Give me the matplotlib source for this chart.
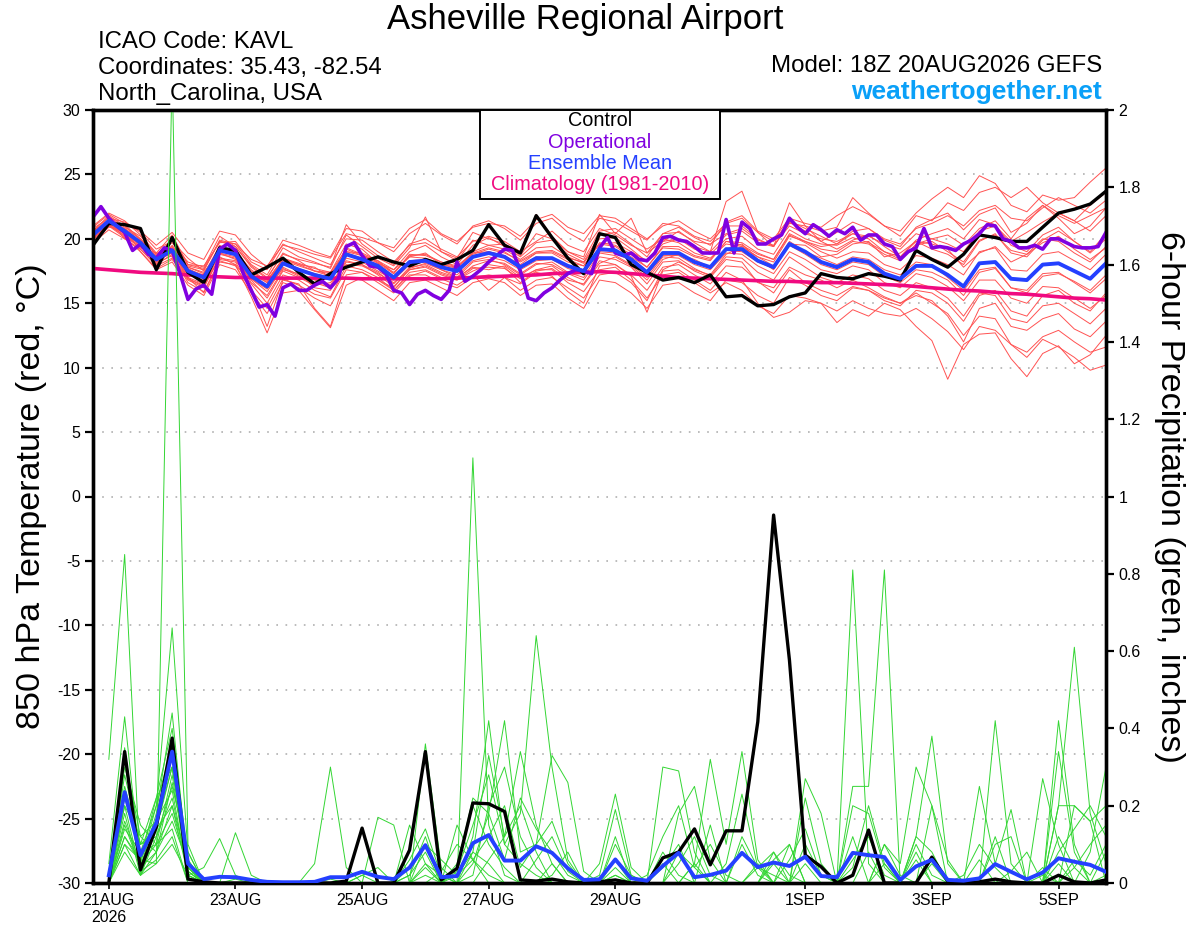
import matplotlib
matplotlib.use("Agg")
import matplotlib.pyplot as plt
from matplotlib.patches import Rectangle
import numpy as np

plt.rcParams['font.family'] = ['Liberation Sans', 'DejaVu Sans']

# ---------------- data ----------------
# x: 6-hourly steps, step 0 = 21AUG 00Z; temperature starts at step -1 (20AUG 18Z)
tick_steps = [0, 8, 16, 24, 32, 44, 52, 60]
tick_labels = ["21AUG\n2026", "23AUG", "25AUG", "27AUG", "29AUG", "1SEP", "3SEP", "5SEP"]

control_temp = [19.5, 21.2, 21.1, 20.8, 17.6, 20.1, 17.4, 16.6, 19.3, 19.1, 17.2, 17.8, 18.5,
                17.4, 16.5, 17.3, 17.8, 18.2, 18.6, 18.2, 17.9, 18.4, 18.0, 18.4, 19.1, 21.1,
                19.5, 18.9, 21.8, 20.1, 18.5, 17.3, 20.4, 20.1, 18.0, 17.4, 16.8, 17.0, 16.6,
                17.2, 15.5, 15.6, 14.8, 14.9, 15.5, 15.8, 17.3, 17.0, 16.9, 17.3, 17.1, 16.8,
                19.1, 18.4, 17.8, 18.8, 20.3, 20.1, 19.8, 19.8, 20.9, 22.0, 22.3, 22.7, 23.7]

mean_temp = [20.3, 21.4, 20.6, 19.7, 18.4, 19.1, 17.5, 17.0, 19.1, 18.8, 17.1, 16.3, 18.1,
             17.6, 17.2, 16.9, 18.8, 18.4, 17.9, 17.0, 18.2, 18.3, 17.8, 17.5, 18.6, 18.9,
             18.6, 17.8, 18.5, 18.5, 17.9, 17.5, 19.2, 19.1, 18.4, 17.4, 18.9, 18.9, 18.2,
             17.8, 19.2, 19.2, 18.3, 17.8, 19.6, 19.0, 18.2, 17.8, 18.4, 18.2, 17.3, 16.9,
             17.9, 17.9, 17.2, 16.3, 18.1, 18.2, 16.9, 16.8, 18.0, 18.1, 17.5, 16.9, 18.1]

clim_temp = [17.7, 17.6, 17.5, 17.4, 17.35, 17.3, 17.2, 17.1, 17.05, 17.0, 17.0, 16.95, 16.95,
             16.95, 16.95, 16.95, 16.95, 16.9, 16.9, 16.9, 16.9, 16.9, 16.9, 16.95, 17.0, 17.05,
             17.1, 17.15, 17.2, 17.3, 17.35, 17.4, 17.45, 17.4, 17.3, 17.2, 17.1, 17.0, 16.95,
             16.9, 16.85, 16.8, 16.75, 16.7, 16.7, 16.65, 16.6, 16.6, 16.55, 16.5, 16.45, 16.4,
             16.3, 16.2, 16.1, 16.0, 15.95, 15.85, 15.75, 15.7, 15.6, 15.5, 15.4, 15.35, 15.25]

# operational is 3-hourly, from 20AUG 18Z
oper_temp = [21.7, 22.5, 21.6, 21.0, 20.5, 19.1, 19.6, 18.8, 18.5, 19.3, 19.1, 17.3, 15.3,
             16.1, 16.4, 15.7, 19.2, 19.6, 19.1, 17.3, 16.0, 14.7, 14.9, 14.0, 16.2, 16.5,
             16.0, 16.0, 16.4, 16.7, 16.2, 16.9, 19.4, 19.7, 18.7, 17.9, 17.8, 17.3, 16.0,
             15.8, 14.9, 15.7, 16.0, 15.6, 15.3, 16.0, 18.2, 16.7, 17.1, 17.6, 18.2, 18.7,
             19.2, 19.1, 17.5, 15.4, 15.2, 15.8, 16.2, 16.8, 17.3, 17.6, 17.5, 17.3, 19.3,
             20.1, 18.9, 18.7, 18.9, 18.4, 18.3, 18.9, 20.1, 20.2, 19.9, 19.8, 19.4, 18.9,
             18.9, 18.9, 21.5, 18.9, 21.3, 20.8, 19.6, 19.6, 20.0, 20.3, 21.6, 20.9, 20.4,
             21.1, 20.7, 20.2, 20.7, 20.4, 20.9, 19.9, 20.3, 20.3, 19.6, 19.4, 18.4, 19.0,
             19.3, 20.8, 19.3, 19.4, 19.3, 19.1, 19.6, 19.9, 20.4, 21.1, 21.0, 20.0, 19.8,
             19.3, 19.3, 19.5, 19.2, 20.0, 20.0, 19.7, 19.4, 19.3, 19.3, 19.4, 20.5]

ens_temp = [
    [20.6, 21.8, 21.0, 19.9, 18.0, 19.5, 17.9, 17.6, 19.8, 19.4, 17.8, 16.9, 18.9,
     18.3, 17.5, 17.4, 19.6, 19.2, 18.1, 17.6, 19.0, 19.5, 18.6, 18.0, 19.5, 20.1,
     19.4, 18.6, 19.7, 19.9, 18.8, 18.2, 20.3, 20.5, 19.6, 18.6, 20.4, 20.9, 20.1,
     19.5, 21.3, 21.8, 20.6, 20.0, 21.6, 21.2, 20.9, 21.8, 22.5, 21.9, 21.0, 20.6,
     22.0, 23.1, 24.0, 23.2, 24.9, 24.3, 22.6, 22.1, 23.4, 23.0, 23.2, 24.4, 25.5],
    [20.0, 21.1, 20.2, 19.3, 18.9, 18.6, 17.0, 16.5, 18.4, 18.2, 16.2, 13.2, 16.8,
     16.5, 14.6, 13.2, 17.2, 17.4, 16.6, 15.8, 17.1, 17.5, 16.9, 16.4, 17.2, 16.0,
     17.0, 16.5, 17.4, 17.1, 15.9, 15.0, 17.9, 18.0, 17.1, 14.3, 17.5, 17.6, 16.8,
     16.0, 17.4, 16.8, 15.0, 13.9, 14.3, 15.2, 15.0, 13.5, 14.5, 14.0, 15.0, 14.5,
     13.2, 12.1, 9.1, 11.8, 12.6, 12.7, 10.7, 9.3, 11.1, 11.7, 10.3, 11.0, 12.5],
    [20.8, 21.6, 21.3, 20.5, 19.2, 19.8, 18.5, 17.5, 19.9, 19.6, 18.0, 17.2, 19.3,
     18.6, 18.2, 17.7, 20.3, 19.4, 18.5, 17.9, 19.3, 21.7, 19.0, 18.3, 19.9, 19.5,
     19.6, 18.9, 21.9, 20.2, 19.0, 18.6, 21.9, 20.4, 21.6, 18.9, 19.8, 20.6, 19.7,
     19.0, 22.9, 23.7, 20.5, 19.4, 22.8, 21.0, 19.8, 20.5, 21.3, 20.8, 19.9, 19.4,
     20.9, 21.5, 22.0, 20.7, 21.9, 22.4, 20.5, 21.2, 22.6, 21.6, 20.4, 21.0, 22.4],
    [19.8, 20.9, 20.8, 19.0, 17.7, 18.4, 16.8, 16.2, 18.6, 18.0, 16.5, 15.0, 17.2,
     16.8, 16.0, 15.5, 17.9, 17.6, 17.0, 16.0, 17.4, 17.6, 17.0, 16.8, 17.5, 18.0,
     17.8, 16.6, 17.5, 17.7, 16.8, 16.5, 18.3, 18.0, 17.2, 16.0, 17.8, 18.0, 17.2,
     16.5, 17.9, 17.8, 16.7, 15.8, 17.6, 16.6, 16.0, 15.6, 16.3, 16.0, 15.4, 15.0,
     15.6, 15.2, 14.0, 12.0, 14.6, 15.0, 13.2, 12.9, 13.8, 14.2, 13.0, 12.4, 13.6],
    [20.4, 21.5, 20.0, 19.9, 18.6, 19.4, 17.6, 17.2, 19.5, 18.9, 17.4, 16.8, 18.4,
     18.0, 17.8, 17.0, 19.0, 18.9, 18.3, 17.3, 18.8, 18.7, 18.2, 17.9, 18.9, 19.3,
     19.0, 18.2, 18.9, 19.0, 18.4, 17.9, 19.7, 19.5, 18.8, 17.8, 19.3, 19.2, 18.6,
     18.3, 19.8, 19.5, 18.8, 18.4, 20.3, 19.7, 19.0, 18.5, 19.0, 18.9, 18.0, 17.6,
     18.7, 18.5, 18.0, 17.2, 19.0, 19.3, 17.6, 17.5, 18.8, 19.0, 18.3, 17.6, 18.8],
    [20.1, 21.0, 20.5, 19.5, 18.2, 19.0, 16.9, 16.4, 18.8, 18.5, 16.9, 15.9, 17.8,
     17.2, 16.8, 16.4, 18.3, 18.0, 17.4, 16.5, 17.8, 18.0, 17.4, 17.0, 18.2, 18.4,
     18.0, 17.2, 18.0, 18.2, 17.4, 17.0, 18.9, 18.7, 18.0, 17.0, 18.6, 18.5, 17.7,
     17.1, 18.6, 18.5, 17.4, 16.8, 18.6, 17.8, 17.0, 16.6, 17.2, 16.9, 16.0, 15.6,
     16.6, 16.2, 15.4, 14.0, 15.8, 15.6, 13.8, 13.5, 14.8, 15.0, 14.2, 13.4, 14.6],
    [20.5, 21.7, 20.9, 20.2, 18.8, 19.7, 18.2, 17.8, 20.2, 19.4, 17.9, 17.0, 18.8,
     18.4, 18.1, 17.8, 21.1, 19.6, 18.7, 18.0, 19.6, 20.0, 19.2, 18.6, 19.8, 20.2,
     19.8, 19.0, 19.8, 20.6, 19.5, 19.0, 20.8, 20.3, 19.5, 18.9, 20.4, 20.5, 19.8,
     19.6, 20.4, 20.8, 19.9, 19.5, 21.0, 20.4, 20.0, 19.8, 20.4, 20.2, 19.6, 19.2,
     20.4, 20.0, 19.6, 19.0, 20.6, 21.0, 19.8, 20.5, 21.3, 22.0, 21.4, 20.6, 21.8],
    [20.2, 21.2, 20.4, 19.2, 18.0, 18.8, 17.2, 16.8, 18.9, 18.6, 16.6, 15.6, 17.6,
     17.3, 16.2, 16.0, 18.2, 18.0, 17.2, 16.3, 17.6, 17.9, 17.3, 16.9, 17.9, 18.3,
     18.1, 17.3, 18.1, 18.0, 17.3, 16.8, 18.6, 18.4, 17.8, 16.5, 18.2, 18.3, 17.5,
     17.0, 18.4, 18.2, 16.6, 16.2, 17.8, 17.2, 16.8, 16.2, 16.8, 16.2, 15.5, 15.0,
     15.8, 15.0, 14.2, 12.5, 14.0, 13.8, 11.8, 10.8, 12.2, 11.6, 10.8, 9.8, 10.2],
    [20.7, 21.3, 21.1, 20.0, 18.5, 19.2, 17.8, 17.3, 19.3, 19.1, 17.5, 16.6, 18.5,
     18.0, 17.5, 17.1, 19.3, 18.8, 18.2, 17.4, 18.6, 18.9, 18.0, 17.7, 19.0, 19.5,
     19.2, 18.4, 19.3, 19.4, 18.6, 18.1, 20.0, 20.1, 19.2, 18.2, 19.6, 20.0, 19.2,
     18.8, 20.0, 20.2, 19.2, 18.8, 20.7, 20.0, 19.6, 19.5, 20.1, 19.7, 19.0, 18.6,
     19.9, 20.4, 20.8, 20.0, 21.5, 21.1, 19.5, 19.0, 20.3, 20.9, 19.8, 18.9, 20.0],
    [19.9, 21.0, 20.3, 19.4, 18.3, 18.9, 17.3, 16.7, 18.9, 18.4, 16.9, 16.1, 17.7,
     17.1, 16.6, 16.2, 18.5, 18.2, 17.5, 16.8, 18.0, 18.2, 17.6, 17.2, 18.3, 18.6,
     18.3, 17.6, 18.3, 18.4, 17.7, 17.3, 19.0, 18.9, 18.3, 17.2, 18.7, 18.7, 18.0,
     17.6, 18.9, 18.8, 17.9, 17.3, 19.0, 18.4, 17.6, 17.3, 17.9, 17.6, 16.6, 16.2,
     17.3, 17.0, 16.3, 15.2, 16.8, 16.8, 15.4, 15.0, 16.3, 16.2, 15.4, 14.6, 15.6],
    [21.0, 22.0, 21.4, 20.3, 18.9, 20.3, 18.0, 17.9, 19.7, 19.8, 18.2, 17.6, 19.6,
     19.0, 18.5, 18.0, 20.0, 19.9, 19.0, 18.2, 19.5, 19.7, 19.0, 18.5, 20.5, 20.0,
     19.6, 18.7, 20.4, 20.0, 19.0, 18.4, 20.6, 20.8, 20.0, 19.2, 20.0, 19.7, 18.9,
     18.5, 19.6, 19.4, 18.6, 17.9, 19.8, 19.0, 18.5, 18.0, 18.6, 18.4, 17.6, 17.2,
     18.2, 18.0, 17.0, 16.0, 17.6, 17.8, 16.2, 16.0, 17.3, 17.4, 16.6, 15.8, 16.9],
    [20.3, 21.4, 20.7, 19.7, 18.4, 19.1, 17.0, 15.8, 18.2, 18.0, 15.5, 12.7, 15.8,
     16.0, 14.5, 13.1, 16.4, 17.0, 16.8, 16.2, 17.7, 18.1, 17.6, 17.0, 17.8, 17.6,
     17.9, 17.0, 17.6, 17.9, 17.0, 16.4, 18.1, 18.6, 17.9, 16.8, 18.4, 18.8, 18.4,
     17.8, 19.2, 19.6, 18.4, 17.6, 19.6, 19.5, 18.6, 18.8, 19.6, 19.8, 18.6, 18.9,
     19.8, 19.6, 19.2, 17.8, 18.9, 19.4, 18.2, 18.8, 19.7, 20.2, 19.2, 18.4, 19.3],
    [20.4, 21.2, 20.6, 19.8, 18.6, 19.3, 17.8, 17.4, 19.0, 18.9, 17.3, 16.6, 18.3,
     17.9, 17.5, 17.3, 19.0, 18.7, 18.3, 17.6, 18.6, 18.5, 18.0, 17.8, 18.8, 19.2,
     18.9, 18.3, 19.0, 19.1, 18.5, 18.2, 19.6, 19.7, 19.0, 18.3, 19.8, 20.0, 19.4,
     19.0, 20.3, 20.6, 19.7, 19.4, 21.2, 21.0, 20.6, 20.9, 23.2, 22.0, 21.0, 20.2,
     21.8, 21.4, 22.8, 22.2, 23.6, 24.0, 23.2, 24.0, 22.8, 22.0, 21.4, 22.6, 23.6],
    [19.7, 20.7, 20.0, 19.2, 17.9, 18.5, 16.9, 16.3, 18.5, 18.3, 16.8, 15.4, 17.5,
     17.0, 16.4, 16.6, 18.0, 17.9, 17.3, 16.6, 17.6, 17.8, 17.2, 16.8, 17.7, 17.8,
     17.7, 16.9, 17.6, 17.6, 16.6, 15.9, 17.6, 17.8, 16.8, 15.4, 17.2, 17.4, 16.6,
     15.8, 16.6, 16.0, 14.8, 14.2, 15.6, 15.4, 15.0, 14.4, 15.2, 14.6, 14.2, 14.0,
     14.6, 13.8, 12.8, 11.4, 13.2, 12.9, 11.8, 11.2, 12.4, 12.9, 12.0, 11.2, 11.6],
    [20.2, 21.5, 20.5, 19.6, 18.2, 19.0, 17.4, 16.9, 19.2, 18.8, 17.0, 16.4, 18.2,
     17.7, 17.3, 17.0, 18.9, 18.5, 18.0, 17.1, 18.3, 18.4, 17.9, 17.6, 18.7, 19.0,
     18.7, 17.9, 18.6, 18.5, 17.9, 17.6, 19.2, 19.1, 18.5, 17.5, 18.9, 18.8, 18.2,
     17.8, 19.1, 19.0, 18.2, 17.7, 19.5, 18.8, 18.0, 17.6, 18.2, 18.0, 17.1, 16.6,
     17.6, 17.4, 16.8, 15.6, 17.4, 17.7, 16.2, 15.8, 17.1, 17.3, 16.7, 16.0, 17.2],
    [20.6, 21.3, 20.8, 19.8, 18.7, 19.4, 17.7, 17.1, 19.2, 19.0, 17.6, 16.7, 18.5,
     18.1, 17.7, 17.4, 19.2, 18.7, 18.1, 17.3, 18.7, 18.8, 18.2, 17.8, 18.9, 19.0,
     18.7, 18.0, 18.9, 18.9, 18.2, 17.9, 19.6, 19.4, 18.6, 17.8, 19.4, 19.4, 18.7,
     18.4, 19.8, 19.7, 18.9, 18.4, 20.4, 19.8, 19.2, 19.0, 19.8, 19.6, 18.8, 18.3,
     19.6, 20.0, 20.3, 19.5, 20.8, 21.4, 20.0, 21.6, 22.6, 21.8, 21.2, 21.8, 22.4],
    [20.9, 21.9, 21.2, 20.6, 19.5, 20.5, 18.9, 18.4, 20.6, 20.3, 18.8, 17.8, 19.9,
     19.5, 19.0, 18.6, 20.8, 20.6, 19.7, 19.0, 20.4, 21.2, 20.3, 19.6, 21.0, 21.4,
     20.8, 19.9, 21.2, 21.6, 20.5, 19.8, 21.6, 21.3, 20.6, 19.9, 21.2, 21.0, 20.2,
     19.8, 21.0, 21.0, 20.0, 19.4, 21.3, 20.6, 19.8, 19.2, 19.9, 20.3, 19.4, 18.6,
     19.8, 19.2, 18.8, 18.0, 19.8, 20.4, 18.9, 18.6, 19.9, 20.6, 19.8, 19.0, 20.4],
    [20.0, 21.0, 20.1, 19.0, 17.6, 18.2, 16.4, 15.6, 18.0, 17.6, 15.8, 14.2, 16.6,
     16.2, 15.4, 14.8, 17.0, 16.8, 16.0, 15.2, 16.6, 16.8, 16.2, 15.6, 16.6, 16.9,
     16.6, 15.6, 16.4, 16.5, 15.4, 14.6, 16.8, 16.6, 15.8, 14.6, 16.4, 16.6, 15.8,
     15.2, 16.8, 16.6, 15.6, 15.0, 17.0, 16.4, 15.6, 15.2, 16.2, 16.0, 15.2, 14.8,
     16.0, 15.8, 15.0, 13.6, 15.6, 16.0, 14.4, 14.0, 15.6, 16.0, 15.0, 14.4, 15.8],
    [20.5, 21.5, 20.8, 20.0, 18.8, 19.9, 18.0, 17.7, 19.8, 19.6, 18.4, 17.9, 19.5,
     19.2, 18.8, 18.5, 20.4, 20.1, 19.7, 19.3, 20.8, 21.5, 20.4, 19.8, 20.9, 21.2,
     21.0, 20.2, 21.5, 21.9, 20.9, 20.4, 21.8, 21.6, 20.8, 20.0, 21.0, 21.4, 20.6,
     20.0, 21.2, 21.6, 20.5, 19.8, 21.4, 20.8, 20.2, 19.6, 20.4, 20.0, 19.0, 18.4,
     19.5, 19.8, 19.0, 18.2, 19.9, 20.3, 19.1, 18.8, 20.0, 19.8, 18.9, 18.2, 19.4],
    [20.1, 21.1, 20.4, 19.5, 18.1, 18.7, 16.6, 15.9, 18.3, 17.9, 16.0, 14.6, 16.9,
     16.4, 15.7, 15.4, 17.6, 17.4, 16.8, 16.0, 17.2, 17.2, 16.6, 16.2, 17.0, 17.2,
     17.0, 16.0, 16.8, 17.0, 16.2, 15.4, 17.2, 17.4, 16.6, 15.2, 17.6, 18.2, 17.6,
     17.2, 18.8, 19.4, 18.6, 18.2, 20.2, 19.8, 19.4, 19.6, 20.6, 20.8, 20.0, 19.6,
     20.8, 21.2, 21.8, 21.0, 22.2, 22.6, 21.6, 21.4, 22.4, 23.2, 22.6, 22.0, 23.0],
]

# 6-hour precipitation (inches), steps 0..63
control_precip = [0.0, 0.34, 0.034, 0.145, 0.375, 0.01, 0.003, 0.0, 0.0, 0.0, 0.0, 0.0, 0.0, 0.0, 0.0, 0.005,
                  0.142, 0.0, 0.0, 0.085, 0.34, 0.008, 0.038, 0.207, 0.205, 0.185, 0.008, 0.005, 0.01, 0.003, 0.0, 0.003,
                  0.008, 0.0, 0.0, 0.065, 0.08, 0.14, 0.047, 0.135, 0.135, 0.417, 0.952, 0.577, 0.072, 0.042, 0.0, 0.02,
                  0.137, 0.0, 0.0, 0.0, 0.067, 0.005, 0.0, 0.003, 0.01, 0.003, 0.0, 0.0, 0.02, 0.003, 0.0, 0.008]

mean_precip = [0.02, 0.235, 0.072, 0.155, 0.34, 0.05, 0.01, 0.016, 0.015, 0.008, 0.003, 0.002, 0.002, 0.003, 0.015, 0.015,
               0.029, 0.016, 0.01, 0.04, 0.098, 0.015, 0.018, 0.103, 0.124, 0.058, 0.058, 0.095, 0.078, 0.038, 0.008, 0.0095,
               0.061, 0.012, 0.006, 0.044, 0.078, 0.015, 0.021, 0.032, 0.078, 0.041, 0.053, 0.044, 0.068, 0.018, 0.015, 0.078,
               0.072, 0.067, 0.008, 0.043, 0.06, 0.008, 0.006, 0.012, 0.049, 0.029, 0.0095, 0.027, 0.064, 0.055, 0.047, 0.029]

ens_precip = [
    [0.32, 0.85, 0.02, 0.12, 0.22, 0.03, 0.0, 0.0, 0.0, 0.0, 0.0, 0.0, 0.0, 0.0, 0.0, 0.0,
     0.0, 0.0, 0.0, 0.02, 0.08, 0.0, 0.03, 0.15, 0.28, 0.10, 0.05, 0.02, 0.0, 0.0, 0.0, 0.0,
     0.10, 0.02, 0.0, 0.0, 0.05, 0.12, 0.02, 0.0, 0.0, 0.04, 0.08, 0.02, 0.0, 0.0, 0.0, 0.06,
     0.12, 0.02, 0.0, 0.0, 0.05, 0.0, 0.0, 0.0, 0.0, 0.03, 0.08, 0.0, 0.0, 0.04, 0.10, 0.15],
    [0.0, 0.10, 0.06, 0.05, 2.10, 0.10, 0.0, 0.0, 0.0, 0.0, 0.0, 0.0, 0.0, 0.0, 0.0, 0.0,
     0.0, 0.0, 0.0, 0.0, 0.04, 0.0, 0.0, 0.08, 0.05, 0.0, 0.0, 0.06, 0.12, 0.03, 0.0, 0.0,
     0.0, 0.0, 0.0, 0.08, 0.02, 0.0, 0.0, 0.0, 0.10, 0.02, 0.0, 0.0, 0.0, 0.0, 0.0, 0.0,
     0.0, 0.05, 0.0, 0.10, 0.02, 0.0, 0.0, 0.0, 0.12, 0.0, 0.0, 0.0, 0.05, 0.0, 0.0, 0.0],
    [0.0, 0.22, 0.08, 0.20, 0.66, 0.08, 0.0, 0.0, 0.01, 0.0, 0.0, 0.0, 0.0, 0.0, 0.0, 0.0,
     0.0, 0.0, 0.0, 0.06, 0.14, 0.02, 0.0, 0.02, 0.20, 0.30, 0.12, 0.04, 0.0, 0.0, 0.0, 0.0,
     0.04, 0.0, 0.0, 0.0, 0.18, 0.25, 0.06, 0.0, 0.0, 0.0, 0.0, 0.06, 0.14, 0.02, 0.0, 0.0,
     0.0, 0.0, 0.0, 0.0, 0.0, 0.0, 0.02, 0.10, 0.04, 0.0, 0.0, 0.0, 0.12, 0.04, 0.0, 0.0],
    [0.05, 0.43, 0.04, 0.18, 0.44, 0.03, 0.0, 0.0, 0.0, 0.0, 0.0, 0.0, 0.0, 0.0, 0.01, 0.0,
     0.0, 0.0, 0.0, 0.0, 0.0, 0.0, 0.05, 0.20, 0.10, 0.04, 0.0, 0.0, 0.02, 0.08, 0.0, 0.0,
     0.0, 0.0, 0.0, 0.0, 0.0, 0.0, 0.0, 0.05, 0.23, 0.04, 0.0, 0.0, 0.0, 0.0, 0.0, 0.0,
     0.0, 0.10, 0.02, 0.0, 0.20, 0.06, 0.0, 0.0, 0.0, 0.0, 0.0, 0.04, 0.0, 0.0, 0.0, 0.02],
    [0.0, 0.30, 0.15, 0.10, 0.28, 0.02, 0.0, 0.0, 0.0, 0.0, 0.0, 0.0, 0.0, 0.05, 0.30, 0.04,
     0.0, 0.0, 0.0, 0.0, 0.0, 0.03, 0.10, 0.06, 0.02, 0.0, 0.0, 0.0, 0.0, 0.0, 0.0, 0.0,
     0.02, 0.0, 0.0, 0.04, 0.10, 0.0, 0.0, 0.0, 0.0, 0.0, 0.0, 0.0, 0.0, 0.0, 0.0, 0.12,
     0.0, 0.0, 0.0, 0.06, 0.0, 0.0, 0.0, 0.0, 0.0, 0.0, 0.0, 0.0, 0.0, 0.20, 0.16, 0.0],
    [0.0, 0.18, 0.02, 0.14, 0.30, 0.05, 0.0, 0.0, 0.0, 0.0, 0.0, 0.0, 0.0, 0.0, 0.0, 0.0,
     0.0, 0.0, 0.0, 0.0, 0.05, 0.02, 0.0, 1.10, 0.15, 0.02, 0.0, 0.0, 0.05, 0.0, 0.0, 0.0,
     0.0, 0.0, 0.0, 0.0, 0.0, 0.0, 0.0, 0.0, 0.0, 0.0, 0.0, 0.0, 0.22, 0.05, 0.0, 0.0,
     0.08, 0.0, 0.0, 0.0, 0.0, 0.0, 0.0, 0.0, 0.0, 0.0, 0.0, 0.0, 0.02, 0.0, 0.0, 0.0],
    [0.0, 0.12, 0.05, 0.20, 0.36, 0.04, 0.0, 0.0, 0.0, 0.0, 0.0, 0.0, 0.0, 0.0, 0.0, 0.0,
     0.02, 0.0, 0.0, 0.0, 0.10, 0.0, 0.0, 0.12, 0.42, 0.10, 0.18, 0.64, 0.30, 0.06, 0.0, 0.0,
     0.0, 0.0, 0.0, 0.0, 0.0, 0.0, 0.15, 0.0, 0.0, 0.0, 0.08, 0.0, 0.0, 0.0, 0.0, 0.0,
     0.0, 0.0, 0.0, 0.0, 0.0, 0.0, 0.0, 0.0, 0.0, 0.0, 0.0, 0.0, 0.0, 0.0, 0.0, 0.0],
    [0.02, 0.25, 0.10, 0.12, 0.25, 0.08, 0.0, 0.0, 0.0, 0.0, 0.0, 0.0, 0.0, 0.0, 0.0, 0.0,
     0.0, 0.0, 0.0, 0.02, 0.12, 0.0, 0.0, 0.05, 0.18, 0.42, 0.08, 0.10, 0.33, 0.26, 0.03, 0.0,
     0.0, 0.0, 0.0, 0.0, 0.0, 0.05, 0.0, 0.0, 0.0, 0.0, 0.0, 0.0, 0.0, 0.0, 0.0, 0.0,
     0.0, 0.0, 0.0, 0.08, 0.0, 0.0, 0.0, 0.0, 0.0, 0.0, 0.0, 0.0, 0.0, 0.0, 0.0, 0.0],
    [0.0, 0.15, 0.04, 0.08, 0.20, 0.02, 0.04, 0.115, 0.02, 0.0, 0.0, 0.0, 0.0, 0.0, 0.0, 0.0,
     0.0, 0.0, 0.0, 0.0, 0.0, 0.0, 0.02, 0.08, 0.33, 0.12, 0.34, 0.15, 0.05, 0.0, 0.0, 0.0,
     0.06, 0.0, 0.0, 0.0, 0.0, 0.0, 0.0, 0.0, 0.0, 0.0, 0.0, 0.0, 0.0, 0.0, 0.0, 0.0,
     0.0, 0.0, 0.0, 0.0, 0.0, 0.0, 0.0, 0.0, 0.0, 0.0, 0.0, 0.0, 0.0, 0.0, 0.0, 0.0],
    [0.0, 0.20, 0.12, 0.16, 0.24, 0.02, 0.0, 0.0, 0.13, 0.02, 0.0, 0.0, 0.0, 0.0, 0.0, 0.0,
     0.0, 0.17, 0.15, 0.0, 0.0, 0.0, 0.0, 0.0, 0.06, 0.12, 0.20, 0.08, 0.0, 0.0, 0.0, 0.0,
     0.0, 0.0, 0.0, 0.0, 0.0, 0.0, 0.0, 0.0, 0.0, 0.0, 0.0, 0.0, 0.05, 0.0, 0.0, 0.81,
     0.05, 0.0, 0.0, 0.0, 0.0, 0.0, 0.0, 0.0, 0.0, 0.0, 0.0, 0.0, 0.0, 0.0, 0.0, 0.0],
    [0.0, 0.10, 0.02, 0.08, 0.16, 0.05, 0.0, 0.0, 0.0, 0.0, 0.0, 0.0, 0.0, 0.0, 0.0, 0.0,
     0.02, 0.04, 0.0, 0.0, 0.36, 0.04, 0.0, 0.0, 0.0, 0.0, 0.0, 0.0, 0.0, 0.0, 0.0, 0.0,
     0.0, 0.0, 0.0, 0.0, 0.0, 0.0, 0.0, 0.0, 0.0, 0.0, 0.0, 0.10, 0.0, 0.0, 0.0, 0.25,
     0.25, 0.81, 0.0, 0.0, 0.0, 0.0, 0.0, 0.0, 0.0, 0.0, 0.0, 0.0, 0.0, 0.0, 0.0, 0.0],
    [0.0, 0.28, 0.10, 0.22, 0.40, 0.06, 0.0, 0.0, 0.0, 0.0, 0.0, 0.0, 0.0, 0.0, 0.0, 0.0,
     0.0, 0.0, 0.0, 0.15, 0.05, 0.0, 0.15, 0.06, 0.0, 0.0, 0.0, 0.0, 0.0, 0.0, 0.0, 0.0,
     0.0, 0.0, 0.0, 0.0, 0.0, 0.0, 0.0, 0.0, 0.0, 0.0, 0.0, 0.0, 0.0, 0.0, 0.0, 0.0,
     0.0, 0.0, 0.0, 0.0, 0.0, 0.0, 0.0, 0.0, 0.0, 0.0, 0.0, 0.0, 0.20, 0.61, 0.18, 0.05],
    [0.0, 0.35, 0.06, 0.15, 0.30, 0.03, 0.0, 0.0, 0.0, 0.0, 0.0, 0.0, 0.0, 0.0, 0.0, 0.0,
     0.0, 0.0, 0.0, 0.0, 0.02, 0.0, 0.0, 0.0, 0.0, 0.0, 0.0, 0.0, 0.0, 0.0, 0.0, 0.02,
     0.19, 0.02, 0.0, 0.0, 0.0, 0.0, 0.0, 0.0, 0.0, 0.0, 0.05, 0.0, 0.0, 0.0, 0.0, 0.0,
     0.0, 0.0, 0.0, 0.12, 0.38, 0.05, 0.0, 0.0, 0.0, 0.0, 0.0, 0.0, 0.42, 0.10, 0.0, 0.08],
    [0.0, 0.14, 0.08, 0.10, 0.18, 0.04, 0.0, 0.0, 0.0, 0.0, 0.0, 0.0, 0.0, 0.0, 0.0, 0.0,
     0.0, 0.0, 0.0, 0.0, 0.0, 0.0, 0.0, 0.0, 0.0, 0.0, 0.0, 0.0, 0.0, 0.0, 0.0, 0.0,
     0.02, 0.0, 0.0, 0.05, 0.0, 0.0, 0.0, 0.0, 0.0, 0.0, 0.0, 0.0, 0.0, 0.0, 0.0, 0.0,
     0.0, 0.0, 0.0, 0.0, 0.0, 0.0, 0.0, 0.0, 0.42, 0.05, 0.0, 0.0, 0.0, 0.0, 0.08, 0.30],
    [0.0, 0.20, 0.03, 0.06, 0.12, 0.0, 0.0, 0.0, 0.0, 0.0, 0.0, 0.0, 0.0, 0.0, 0.0, 0.0,
     0.0, 0.0, 0.0, 0.0, 0.0, 0.0, 0.0, 0.0, 0.0, 0.0, 0.0, 0.0, 0.0, 0.0, 0.0, 0.0,
     0.0, 0.0, 0.0, 0.0, 0.0, 0.05, 0.32, 0.10, 0.34, 0.06, 0.0, 0.0, 0.0, 0.0, 0.0, 0.0,
     0.0, 0.0, 0.0, 0.0, 0.0, 0.0, 0.0, 0.0, 0.0, 0.0, 0.0, 0.0, 0.34, 0.08, 0.0, 0.0],
    [0.0, 0.16, 0.05, 0.10, 0.14, 0.0, 0.0, 0.0, 0.0, 0.0, 0.0, 0.0, 0.0, 0.0, 0.0, 0.0,
     0.0, 0.0, 0.0, 0.0, 0.0, 0.0, 0.0, 0.0, 0.0, 0.0, 0.0, 0.0, 0.0, 0.0, 0.0, 0.05,
     0.23, 0.04, 0.0, 0.30, 0.29, 0.08, 0.0, 0.0, 0.0, 0.05, 0.0, 0.0, 0.27, 0.18, 0.0, 0.0,
     0.0, 0.0, 0.0, 0.0, 0.0, 0.0, 0.0, 0.0, 0.0, 0.0, 0.0, 0.0, 0.0, 0.0, 0.0, 0.0],
    [0.0, 0.24, 0.10, 0.14, 0.20, 0.05, 0.0, 0.0, 0.0, 0.0, 0.0, 0.0, 0.0, 0.0, 0.0, 0.0,
     0.0, 0.0, 0.0, 0.0, 0.0, 0.0, 0.0, 0.0, 0.0, 0.0, 0.0, 0.0, 0.0, 0.0, 0.0, 0.0,
     0.0, 0.0, 0.0, 0.0, 0.0, 0.0, 0.0, 0.0, 0.0, 0.0, 0.0, 0.0, 0.0, 0.0, 0.0, 0.0,
     0.0, 0.10, 0.05, 0.30, 0.20, 0.0, 0.0, 0.0, 0.0, 0.0, 0.0, 0.27, 0.10, 0.0, 0.0, 0.0],
    [0.0, 0.08, 0.02, 0.05, 0.10, 0.02, 0.0, 0.0, 0.0, 0.0, 0.0, 0.0, 0.0, 0.0, 0.0, 0.0,
     0.0, 0.0, 0.0, 0.0, 0.0, 0.0, 0.0, 0.0, 0.0, 0.0, 0.0, 0.0, 0.0, 0.0, 0.0, 0.0,
     0.0, 0.0, 0.0, 0.0, 0.0, 0.0, 0.0, 0.0, 0.0, 0.0, 0.0, 0.0, 0.0, 0.0, 0.0, 0.0,
     0.0, 0.0, 0.0, 0.0, 0.0, 0.0, 0.0, 0.25, 0.05, 0.19, 0.0, 0.0, 0.20, 0.20, 0.16, 0.20],
    [0.0, 0.12, 0.06, 0.22, 0.30, 0.04, 0.0, 0.0, 0.0, 0.0, 0.0, 0.0, 0.0, 0.0, 0.0, 0.0,
     0.0, 0.0, 0.0, 0.0, 0.0, 0.0, 0.04, 0.22, 0.18, 0.06, 0.22, 0.14, 0.08, 0.02, 0.0, 0.0,
     0.0, 0.0, 0.02, 0.12, 0.20, 0.04, 0.0, 0.0, 0.12, 0.04, 0.02, 0.0, 0.10, 0.02, 0.0, 0.04,
     0.20, 0.05, 0.0, 0.0, 0.06, 0.0, 0.0, 0.0, 0.10, 0.12, 0.0, 0.02, 0.0, 0.06, 0.02, 0.10],
    [0.0, 0.32, 0.12, 0.08, 0.26, 0.06, 0.0, 0.0, 0.0, 0.0, 0.0, 0.0, 0.0, 0.0, 0.0, 0.0,
     0.0, 0.0, 0.0, 0.04, 0.10, 0.06, 0.02, 0.06, 0.12, 0.20, 0.04, 0.10, 0.16, 0.05, 0.0, 0.0,
     0.12, 0.0, 0.0, 0.0, 0.08, 0.04, 0.10, 0.02, 0.0, 0.0, 0.06, 0.10, 0.0, 0.0, 0.0, 0.20,
     0.18, 0.04, 0.0, 0.12, 0.08, 0.0, 0.0, 0.06, 0.0, 0.0, 0.0, 0.0, 0.08, 0.14, 0.20, 0.12],
]

temp_ticks = [-30, -25, -20, -15, -10, -5, 0, 5, 10, 15, 20, 25, 30]
precip_ticks = [0, 0.2, 0.4, 0.6, 0.8, 1.0, 1.2, 1.4, 1.6, 1.8, 2.0]

# ---------------- figure ----------------
fig = plt.figure(figsize=(12, 9.27), dpi=100)
ax = fig.add_axes([93/1200, 44/927, 1013/1200, 773/927])
ax2 = ax.twinx()

x_temp = np.arange(len(control_temp)) - 1
x_oper = np.arange(len(oper_temp)) / 2.0 - 1
x_prec = np.arange(len(control_precip))

RED = "#ff5252"
GREEN = "#33d633"
PURPLE = "#8000e0"
BLUE = "#2440ff"
PINK = "#f00a80"

for y in temp_ticks[1:-1]:
    ax.axhline(y, color="#b0b0b0", lw=1.2, ls=(0, (1, 4.5)), zorder=0)

for m in ens_temp:
    ax.plot(x_temp, m, color=RED, lw=0.7, zorder=2)
ax.plot(x_temp, clim_temp, color=PINK, lw=2.6, zorder=3)
ax.plot(x_temp, control_temp, color="black", lw=2.4, zorder=4)
ax.plot(x_oper, oper_temp, color=PURPLE, lw=2.6, zorder=5)
ax.plot(x_temp, mean_temp, color=BLUE, lw=2.8, zorder=6)

for m in ens_precip:
    ax2.plot(x_prec, m, color=GREEN, lw=0.7, zorder=2)
ax2.plot(x_prec, control_precip, color="black", lw=2.4, zorder=4)
ax2.plot(x_prec, mean_precip, color=BLUE, lw=2.8, zorder=5)

ax.set_xlim(-1, 63)
ax.set_ylim(-30, 30)
ax2.set_ylim(0, 2)

ax.set_yticks(temp_ticks)
ax.set_yticklabels([str(t) for t in temp_ticks])
ax2.set_yticks(precip_ticks)
ax2.set_yticklabels([f"{p:g}" for p in precip_ticks])
ax.set_xticks(tick_steps)
ax.set_xticklabels(tick_labels, fontsize=11.5, linespacing=1.15)

ax.tick_params(axis='y', labelsize=11.5, length=6, width=1.6, direction='out', pad=3)
ax2.tick_params(axis='y', labelsize=11.5, length=6, width=1.6, direction='out', pad=3)
ax.tick_params(axis='x', length=4, width=1.2, direction='out', pad=3)

for a in (ax, ax2):
    for s in a.spines.values():
        s.set_linewidth(2.4)
        s.set_color("black")

ax.set_ylabel("850 hPa Temperature (red, °C)", fontsize=24.5)
ax.yaxis.set_label_coords(-0.045, 0.5)
ax2.set_ylabel("6-hour Precipitation (green, inches)", fontsize=24.5, rotation=270, va="center")
ax2.yaxis.set_label_coords(1.063, 0.5)

# legend box
ax2.add_patch(Rectangle((0.382, 0.885), 0.237, 0.115, transform=ax2.transAxes,
                        facecolor="white", edgecolor="black", lw=1.4, zorder=20, clip_on=False))
for txt, col, yy in [("Control", "black", 0.9858), ("Operational", PURPLE, 0.9586),
                     ("Ensemble Mean", BLUE, 0.9314), ("Climatology (1981-2010)", PINK, 0.9030)]:
    ax2.text(0.5005, yy, txt, color=col, fontsize=14.3, ha="center", va="center",
             transform=ax2.transAxes, zorder=21)

# header texts
fig.text(0.4875, 0.979, "Asheville Regional Airport", fontsize=25, ha="center", va="center")
fig.text(0.0817, 0.9548, "ICAO Code: KAVL", fontsize=17.3, ha="left", va="center")
fig.text(0.0817, 0.9268, "Coordinates: 35.43, -82.54", fontsize=17.3, ha="left", va="center")
fig.text(0.0817, 0.8988, "North_Carolina, USA", fontsize=17.3, ha="left", va="center")
fig.text(0.9185, 0.9290, "Model: 18Z 20AUG2026 GEFS", fontsize=17.3, ha="right", va="center")
fig.text(0.9185, 0.9010, "weathertogether.net", fontsize=19, ha="right", va="center",
         color="#0aa0f8", fontweight="bold")

fig.savefig("out.png", dpi=100)
